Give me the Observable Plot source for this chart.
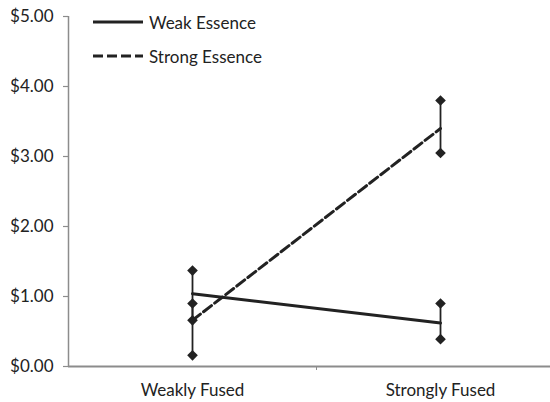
<!DOCTYPE html>
<html><head><meta charset="utf-8">
<script src="https://cdn.jsdelivr.net/npm/d3@7"></script>
<script src="https://cdn.jsdelivr.net/npm/@observablehq/plot@0.6"></script>
<style>
body{margin:0;background:#fff;}
#wrap{position:relative;width:550px;height:402px;font-family:Lato,sans-serif;}
#legend{position:absolute;left:93px;top:5px;font-size:17px;color:#222;}
#legend div{display:flex;align-items:center;height:34px;}
#legend svg{margin-right:6px;}
</style></head>
<body><div id="wrap"><div id="legend"></div></div>
<script>
const categories = ["Weakly Fused", "Strongly Fused"];
const weakMean = [1.04, 0.62];
const strongMean = [0.66, 3.40];
const weakLow = [0.66, 0.39];
const weakHigh = [1.37, 0.90];
const strongLow = [0.16, 3.05];
const strongHigh = [0.90, 3.80];
const yTicks = [0, 1, 2, 3, 4, 5];
const seriesNames = ["Weak Essence", "Strong Essence"];

const rows = [];
categories.forEach((c, i) => {
  rows.push({series: seriesNames[0], cat: c, xi: i + 0.5, y: weakMean[i], lo: weakLow[i], hi: weakHigh[i]});
  rows.push({series: seriesNames[1], cat: c, xi: i + 0.5, y: strongMean[i], lo: strongLow[i], hi: strongHigh[i]});
});
const ends = rows.flatMap(d => [{xi: d.xi, v: d.lo}, {xi: d.xi, v: d.hi}]);

const chart = Plot.plot({
  width: 550, height: 402,
  marginTop: 16, marginBottom: 36, marginLeft: 68, marginRight: 0,
  style: {fontFamily: "Lato, sans-serif", fontSize: "17px", color: "#222", background: "#fff"},
  x: {type: "linear", domain: [0, 2], range: [68, 564], axis: null},
  y: {domain: [0, 5], axis: null},
  marks: [
    Plot.ruleX([0], {y1: 0, y2: 5, stroke: "#8c8c8c", strokeWidth: 1.5}),
    Plot.ruleY(yTicks, {y: d => d, x1: 0, x2: 0, insetLeft: -5, stroke: "#8c8c8c", strokeWidth: 1.2}),
    Plot.text(yTicks, {x: 0, y: d => d, text: d => "$" + d.toFixed(2), textAnchor: "end", dx: -15, fontSize: 17, fill: "#222"}),
    Plot.ruleY([0], {x1: 0, x2: 2, stroke: "#8c8c8c", strokeWidth: 2}),
    Plot.ruleX([1], {y1: 0, y2: 0, stroke: "#8c8c8c", strokeWidth: 1, insetBottom: -4}),
    Plot.text(categories, {x: (d, i) => i + 0.5, y: 0, text: d => d, dy: 24, fontSize: 17, fill: "#222"}),
    Plot.ruleX(rows, {x: "xi", y1: "lo", y2: "hi", stroke: "#222", strokeWidth: 1.8}),
    Plot.dot(ends, {x: "xi", y: "v", symbol: "diamond2", r: 4.8, fill: "#222", stroke: "none"}),
    Plot.line(rows.filter(d => d.series === seriesNames[0]), {x: "xi", y: "y", stroke: "#222", strokeWidth: 3}),
    Plot.line(rows.filter(d => d.series === seriesNames[1]), {x: "xi", y: "y", stroke: "#222", strokeWidth: 3, strokeDasharray: "10,4"})
  ]
});
document.getElementById("wrap").prepend(chart);

const leg = document.getElementById("legend");
seriesNames.forEach((s, i) => {
  const div = document.createElement("div");
  div.innerHTML = `<svg width="50" height="6"><line x1="0" y1="3" x2="50" y2="3" stroke="#222" stroke-width="3" ${i ? 'stroke-dasharray="10,4"' : ''}/></svg><span>${s}</span>`;
  leg.appendChild(div);
});
</script></body></html>
